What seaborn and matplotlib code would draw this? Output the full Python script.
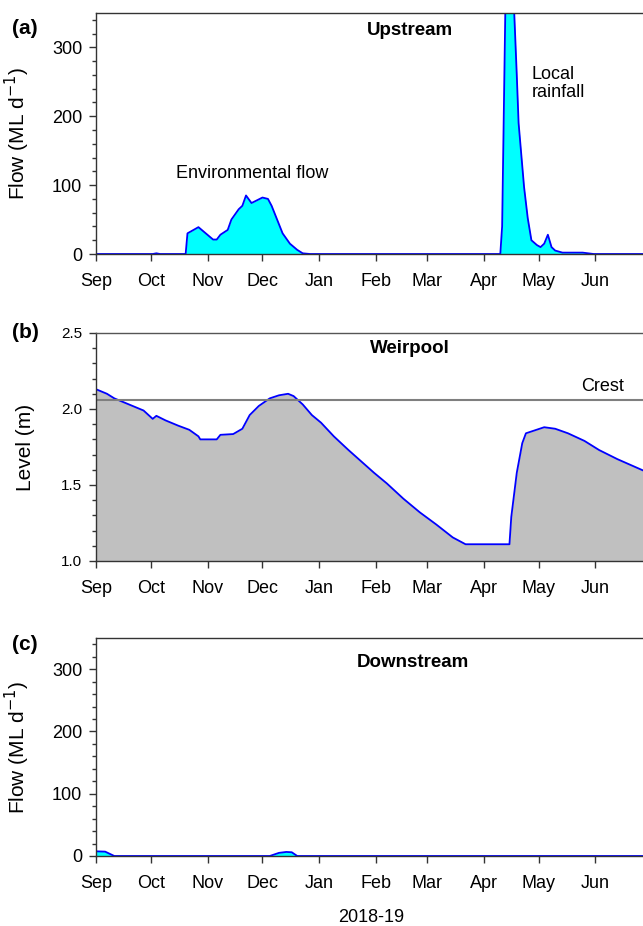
import matplotlib
matplotlib.use("Agg")
import matplotlib.pyplot as plt
import matplotlib.transforms as mtransforms
from matplotlib.ticker import MultipleLocator, FormatStrFormatter
import seaborn as sns
import pandas as pd

# upstream flow (ML/d)
up_dates = ["2018-09-01", "2018-10-02", "2018-10-04", "2018-10-06", "2018-10-20",
            "2018-10-21", "2018-10-23", "2018-10-27", "2018-11-04", "2018-11-06",
            "2018-11-08", "2018-11-12", "2018-11-14", "2018-11-18", "2018-11-20",
            "2018-11-22", "2018-11-25", "2018-11-28", "2018-12-01", "2018-12-04",
            "2018-12-06", "2018-12-09", "2018-12-12", "2018-12-16", "2018-12-20",
            "2018-12-23", "2018-12-27", "2019-04-10", "2019-04-11", "2019-04-13",
            "2019-04-14", "2019-04-15", "2019-04-17", "2019-04-18", "2019-04-19",
            "2019-04-20", "2019-04-23", "2019-04-25", "2019-04-27", "2019-04-30",
            "2019-05-02", "2019-05-04", "2019-05-06", "2019-05-08", "2019-05-10",
            "2019-05-14", "2019-05-25", "2019-05-31", "2019-06-30"]
up_flow = [0, 0, 1, 0, 0,
           30, 33, 39, 21, 21,
           28, 35, 50, 65, 70,
           85, 74, 78, 82, 80,
           70, 50, 30, 15, 6,
           1, 0, 0, 40, 400,
           560, 520, 390, 325, 260,
           190, 97, 52, 20, 13,
           10, 15, 28, 10, 5,
           2, 2, 0, 0]

# weirpool level (m), panel (b)
wp_dates = ["2018-09-01", "2018-09-07", "2018-09-11", "2018-09-16", "2018-09-21",
            "2018-09-27", "2018-10-02", "2018-10-04", "2018-10-09", "2018-10-16",
            "2018-10-22", "2018-10-27", "2018-10-28", "2018-11-05", "2018-11-06",
            "2018-11-08", "2018-11-15", "2018-11-20", "2018-11-24", "2018-11-29",
            "2018-12-05", "2018-12-10", "2018-12-15", "2018-12-18", "2018-12-23",
            "2018-12-28", "2019-01-02", "2019-01-09", "2019-01-17", "2019-01-31",
            "2019-02-07", "2019-02-16", "2019-02-25", "2019-03-06", "2019-03-15",
            "2019-03-22", "2019-04-15", "2019-04-16", "2019-04-19", "2019-04-22",
            "2019-04-24", "2019-04-29", "2019-05-04", "2019-05-10", "2019-05-17",
            "2019-05-26", "2019-06-03", "2019-06-13", "2019-06-30"]
wp_level = [2.13, 2.10, 2.07, 2.045, 2.02,
            1.99, 1.935, 1.955, 1.925, 1.89,
            1.863, 1.82, 1.80, 1.80, 1.80,
            1.83, 1.835, 1.87, 1.96, 2.02,
            2.07, 2.09, 2.10, 2.085, 2.03,
            1.96, 1.91, 1.82, 1.73, 1.58,
            1.51, 1.41, 1.32, 1.24, 1.155,
            1.11, 1.11, 1.29, 1.58, 1.775,
            1.84, 1.86, 1.88, 1.87, 1.84,
            1.79, 1.73, 1.67, 1.58]
crest = 2.06

# downstream flow (ML/d), panel (c)
dn_dates = ["2018-09-01", "2018-09-06", "2018-09-11", "2018-12-05", "2018-12-10",
            "2018-12-14", "2018-12-17", "2018-12-20", "2019-06-30"]
dn_flow = [7.5, 7, 0, 0, 5, 6.5, 6, 0, 0]

month_labels = ["Sep", "Oct", "Nov", "Dec", "Jan", "Feb", "Mar", "Apr", "May", "Jun"]

up = pd.DataFrame({"date": pd.to_datetime(up_dates), "flow": up_flow})
wp = pd.DataFrame({"date": pd.to_datetime(wp_dates), "level": wp_level})
dn = pd.DataFrame({"date": pd.to_datetime(dn_dates), "flow": dn_flow})

sns.set_style("ticks")
plt.rcParams["font.family"] = ["Liberation Sans", "DejaVu Sans"]
plt.rcParams.update({"text.color": "black", "axes.labelcolor": "black",
                     "xtick.color": "black", "ytick.color": "black"})

fig = plt.figure(figsize=(6.43, 9.26), dpi=100)
ax_a = fig.add_axes([0.1493, 0.7257, 0.8507, 0.2603])
ax_b = fig.add_axes([0.1493, 0.3942, 0.8507, 0.2462])
ax_c = fig.add_axes([0.1493, 0.0756, 0.8507, 0.2354])

x0, x1 = pd.Timestamp("2018-09-01"), pd.Timestamp("2019-06-27")
ticks = pd.date_range("2018-09-01", "2019-06-01", freq="MS")
shift = mtransforms.ScaledTranslation(-5 / 100, 0, fig.dpi_scale_trans)


def style_axis(ax, tick_size, label, label_x):
    ax.set_xlim(x0, x1)
    ax.set_xticks(ticks)
    ax.set_xticklabels(month_labels, fontsize=13)
    for lbl in ax.get_xticklabels():
        lbl.set_transform(lbl.get_transform() + shift)
    ax.spines["right"].set_visible(False)
    for s in ["left", "bottom", "top"]:
        ax.spines[s].set_color("#333333")
        ax.spines[s].set_linewidth(1.0)
    ax.tick_params(axis="both", which="major", direction="out", length=5, width=1,
                   color="#333333")
    ax.tick_params(axis="x", labelsize=13, pad=9)
    ax.tick_params(axis="y", labelsize=tick_size, pad=5)
    ax.tick_params(axis="y", which="minor", direction="out", length=3, width=1,
                   color="#333333")
    ax.set_xlabel("")
    ax.set_ylabel(label, fontsize=15)
    ax.yaxis.set_label_coords(label_x, 0.5)


# (a) upstream
ax_a.fill_between(up["date"], 0, up["flow"], color="#00ffff", lw=0)
sns.lineplot(data=up, x="date", y="flow", ax=ax_a, color="#0000ff", lw=1.3)
ax_a.set_ylim(0, 350)
ax_a.yaxis.set_major_locator(MultipleLocator(100))
ax_a.yaxis.set_minor_locator(MultipleLocator(20))
style_axis(ax_a, 13, "Flow (ML d$^{-1}$)", -0.117)
ax_a.text(0.574, 0.929, "Upstream", transform=ax_a.transAxes, ha="center", va="center",
          fontsize=13.5, fontweight="bold")
ax_a.text(pd.Timestamp("2018-10-15"), 117, "Environmental flow", fontsize=13,
          ha="left", va="center")
ax_a.text(pd.Timestamp("2019-04-27"), 273, "Local\nrainfall", fontsize=13,
          ha="left", va="top", linespacing=1.1)

# (b) weirpool
ax_b.fill_between(wp["date"], 0, wp["level"], color="#c0c0c0", lw=0)
sns.lineplot(data=wp, x="date", y="level", ax=ax_b, color="#0000ff", lw=1.3)
ax_b.axhline(crest, color="#7f7f7f", lw=1.5)
ax_b.set_ylim(1.0, 2.5)
ax_b.yaxis.set_major_locator(MultipleLocator(0.5))
ax_b.yaxis.set_minor_locator(MultipleLocator(0.1))
ax_b.yaxis.set_major_formatter(FormatStrFormatter("%.1f"))
style_axis(ax_b, 11, "Level (m)", -0.111)
ax_b.spines["top"].set_color("#555555")
ax_b.text(0.574, 0.934, "Weirpool", transform=ax_b.transAxes, ha="center", va="center",
          fontsize=13.5, fontweight="bold")
ax_b.text(pd.Timestamp("2019-06-05"), 2.145, "Crest", fontsize=13,
          ha="center", va="center")

# (c) downstream
ax_c.fill_between(dn["date"], 0, dn["flow"], color="#00ffff", lw=0)
sns.lineplot(data=dn, x="date", y="flow", ax=ax_c, color="#0000ff", lw=1.3)
ax_c.set_ylim(0, 350)
ax_c.yaxis.set_major_locator(MultipleLocator(100))
ax_c.yaxis.set_minor_locator(MultipleLocator(20))
style_axis(ax_c, 13, "Flow (ML d$^{-1}$)", -0.117)
ax_c.text(0.58, 0.886, "Downstream", transform=ax_c.transAxes, ha="center", va="center",
          fontsize=13.5, fontweight="bold")

for y_px, lab in [(28, "(a)"), (333, "(b)"), (645, "(c)")]:
    fig.text(12 / 643, 1 - y_px / 926, lab, fontsize=15, fontweight="bold",
             ha="left", va="center")

fig.text(371 / 643, 1 - 918 / 926, "2018-19", fontsize=13, ha="center", va="center")

fig.savefig("out.png", dpi=100)
